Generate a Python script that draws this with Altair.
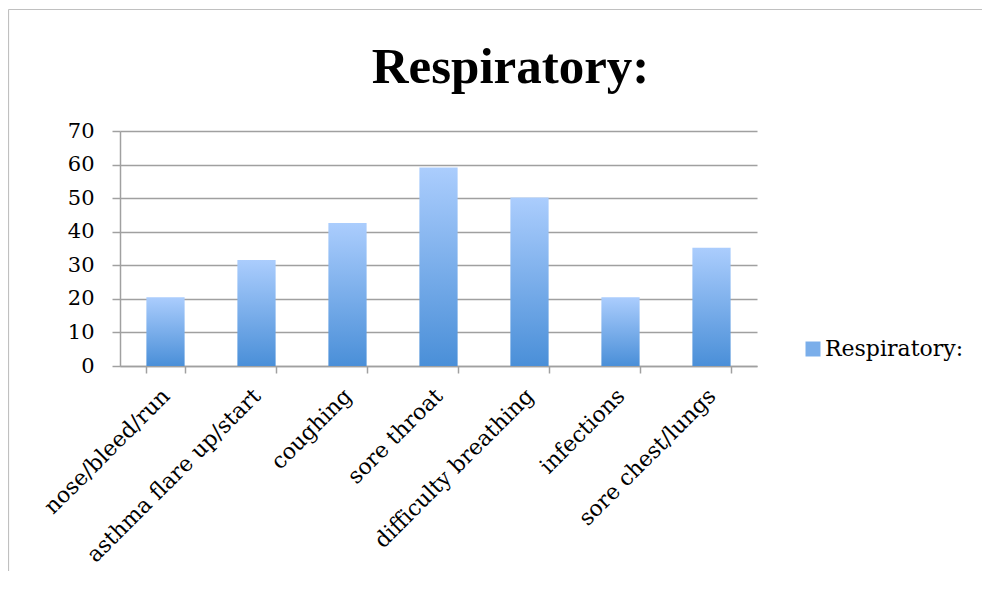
import altair as alt
import pandas as pd

categories = ["nose/bleed/run", "asthma flare up/start", "coughing", "sore throat",
              "difficulty breathing", "infections", "sore chest/lungs"]
values = [20.5, 31.6, 42.6, 59.1, 50.2, 20.5, 35.2]
series_name = "Respiratory:"
y_ticks = [0, 10, 20, 30, 40, 50, 60, 70]

df = pd.DataFrame({"symptom": categories, "count": values, "series": [series_name] * len(categories)})

TITLE_FONT = "Liberation Serif"
FONT = "DejaVu Serif"
GRID = "#a0a0a0"

grad = alt.Gradient(
    gradient="linear",
    stops=[alt.GradientStop(color="#4a8fd8", offset=0),
           alt.GradientStop(color="#abcdfd", offset=1)],
    x1=0, x2=0, y1=1, y2=0,
)

x_enc = alt.X("symptom:N", sort=categories,
              scale=alt.Scale(paddingInner=0.58, paddingOuter=0.29),
              axis=alt.Axis(title=None, labelAngle=315, labelAlign="right", labelBaseline="middle",
                            tickBand="extent", tickSize=7, labelPadding=19, grid=False,
                            labelLimit=0, labelOverlap=False, labelFontSize=22))
y_enc = alt.Y("count:Q", scale=alt.Scale(domain=[0, 70], nice=False),
              axis=alt.Axis(title=None, values=y_ticks, tickCount=8, tickSize=8, labelPadding=18,
                            grid=True, labelOverlap=False, labelFontSize=21))

bars = alt.Chart(df).mark_bar(color=grad, stroke=None).encode(x=x_enc, y=y_enc)

legend_layer = alt.Chart(df).mark_square(opacity=0, size=0).encode(
    color=alt.Color("series:N", scale=alt.Scale(range=["#7aaeea"]),
                    legend=alt.Legend(title=None, orient="none", legendX=682, legendY=207,
                                      symbolType="square", symbolSize=225, symbolOpacity=1,
                                      symbolStrokeWidth=0, padding=0, labelOffset=1,
                                      labelFont=FONT, labelFontSize=22, labelColor="black")),
)

frame = alt.Chart(alt.Data(values=[{"a": 1}])).mark_rule(color="#c0c0c0", strokeWidth=1.2).encode(
    x=alt.value(-111.5), x2=alt.value(870), y=alt.value(-121.5))
frame_left = alt.Chart(alt.Data(values=[{"a": 1}])).mark_rule(color="#c0c0c0", strokeWidth=1.2).encode(
    x=alt.value(-111.5), y=alt.value(-121.5), y2=alt.value(460))

chart = alt.layer(bars, legend_layer, frame, frame_left).properties(
    width=637, height=235,
    title=alt.TitleParams(series_name, font=TITLE_FONT, fontSize=51, fontWeight="bold",
                          anchor="middle", frame="group", dx=72, offset=-136, baseline="bottom",
                          color="black"),
    autosize=alt.AutoSizeParams(type="none"),
    padding={"left": 112, "top": 123, "right": 225, "bottom": 205},
).configure_view(stroke=None).configure_axis(
    domainColor=GRID, tickColor=GRID, gridColor=GRID, domainWidth=1.5, tickWidth=1.5, gridWidth=1.5,
    labelFont=FONT, labelColor="black",
)

chart.save("out.html", embed_options={"renderer": "svg", "actions": False})
